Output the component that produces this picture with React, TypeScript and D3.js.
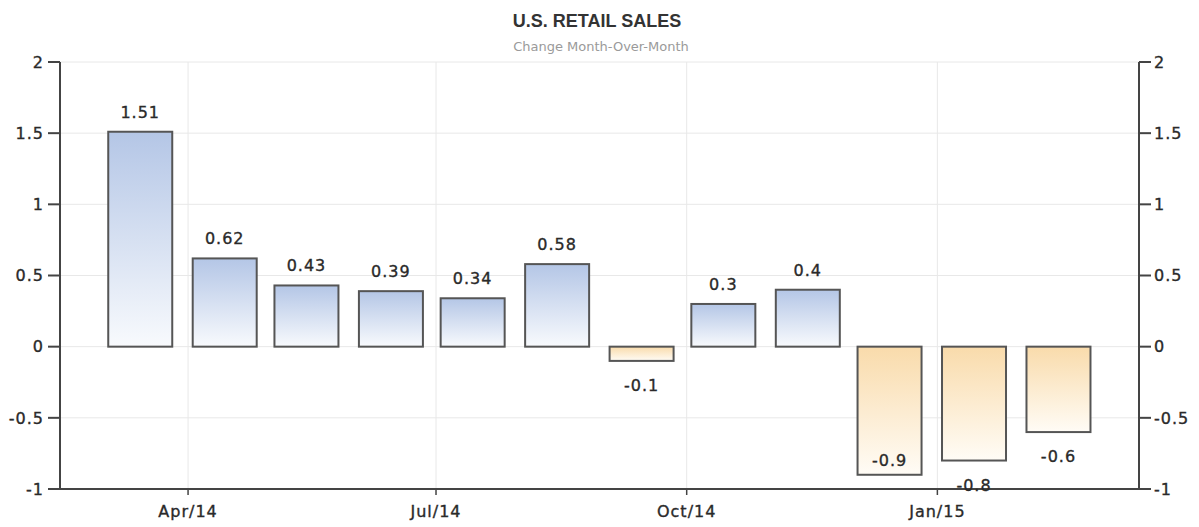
import React from "react";
import * as d3 from "d3";

const months = ["2014-03-15","2014-04-15","2014-05-15","2014-06-15","2014-07-15","2014-08-15","2014-09-15","2014-10-15","2014-11-15","2014-12-15","2015-01-15","2015-02-15"];
const values = [1.51, 0.62, 0.43, 0.39, 0.34, 0.58, -0.1, 0.3, 0.4, -0.9, -0.8, -0.6];
const yTicks = [-1, -0.5, 0, 0.5, 1, 1.5, 2];
const xTickDates = ["2014-04-01", "2014-07-01", "2014-10-01", "2015-01-01"];
const xTickLabels = ["Apr/14", "Jul/14", "Oct/14", "Jan/15"];
const title = "U.S. RETAIL SALES";
const subtitle = "Change Month-Over-Month";

const W = 1199, H = 527;
const left = 60, right = 1139, top = 62, bottom = 489;
const parse = d3.utcParse("%Y-%m-%d");

export default function App() {
  const x = d3.scaleUtc()
    .domain([parse("2014-02-13")!, parse("2015-03-16")!])
    .range([left, right]);
  const y = d3.scaleLinear().domain([-1, 2]).range([bottom, top]);
  const barW = 64;
  const font = "'DejaVu Sans', Verdana, sans-serif";
  const fmt = (v: number) => String(v);
  const txt = { fontFamily: font, fontSize: 16, letterSpacing: 1, fill: "#2a2a2a", stroke: "#2a2a2a", strokeWidth: 0.35 } as const;

  return (
    <svg width={W} height={H} style={{ position: "absolute", left: 0, top: 0, background: "#fff" }}>
      <defs>
        <linearGradient id="gPos" x1="0" y1="0" x2="0" y2="1">
          <stop offset="0" stopColor="#b4c6e6" />
          <stop offset="1" stopColor="#f8fafd" />
        </linearGradient>
        <linearGradient id="gNeg" x1="0" y1="0" x2="0" y2="1">
          <stop offset="0" stopColor="#f9dbab" />
          <stop offset="1" stopColor="#fffcf6" />
        </linearGradient>
      </defs>
      <rect width={W} height={H} fill="#fff" />
      <text x={597} y={27} textAnchor="middle" fontFamily="'Liberation Sans', Arial, sans-serif" fontWeight="bold" fontSize={18} fill="#333">{title}</text>
      <text x={601} y={51} textAnchor="middle" fontFamily={font} fontSize={13} fill="#9a9a9a">{subtitle}</text>

      {/* grid */}
      {yTicks.map((t) => (
        <line key={"gy" + t} x1={left} x2={right} y1={y(t)} y2={y(t)} stroke="#e8e8e8" strokeWidth={1} />
      ))}
      {xTickDates.map((d) => (
        <line key={"gx" + d} x1={x(parse(d)!)} x2={x(parse(d)!)} y1={top} y2={bottom} stroke="#e8e8e8" strokeWidth={1} />
      ))}

      {/* bars */}
      {values.map((v, i) => {
        const cx = x(parse(months[i])!) - 1.5;
        const y0 = y(0), y1 = y(v);
        return (
          <rect key={"b" + i} x={cx - barW / 2} y={Math.min(y0, y1)} width={barW} height={Math.abs(y1 - y0)}
            fill={v >= 0 ? "url(#gPos)" : "url(#gNeg)"} stroke="#555" strokeWidth={2} />
        );
      })}

      {/* axes */}
      <line x1={left} x2={left} y1={top} y2={bottom} stroke="#444" strokeWidth={2} />
      <line x1={right} x2={right} y1={top} y2={bottom} stroke="#444" strokeWidth={2} />
      <line x1={left - 12} x2={right + 12} y1={bottom} y2={bottom} stroke="#444" strokeWidth={2} />
      {yTicks.map((t) => (
        <g key={"yt" + t}>
          <line x1={left - 12} x2={left} y1={y(t)} y2={y(t)} stroke="#444" strokeWidth={2} />
          <line x1={right} x2={right + 12} y1={y(t)} y2={y(t)} stroke="#444" strokeWidth={2} />
          <text x={44} y={y(t)} dy="0.36em" textAnchor="end" {...txt}>{fmt(t)}</text>
          <text x={1154} y={y(t)} dy="0.36em" textAnchor="start" {...txt}>{fmt(t)}</text>
        </g>
      ))}
      {xTickDates.map((d, i) => (
        <g key={"xt" + d}>
          <line x1={x(parse(d)!)} x2={x(parse(d)!)} y1={bottom} y2={bottom + 6} stroke="#444" strokeWidth={1.5} />
          <text x={x(parse(d)!)} y={517} textAnchor="middle" {...txt}>{xTickLabels[i]}</text>
        </g>
      ))}

      {/* value labels */}
      {values.map((v, i) => {
        const cx = x(parse(months[i])!) - 1.5;
        let ly: number;
        if (v >= 0) ly = y(v) - 14;
        else {
          ly = y(v) + 30;
          if (ly > bottom + 5) ly = y(v) - 9;
        }
        return (
          <text key={"l" + i} x={cx} y={ly} textAnchor="middle" {...txt}>{fmt(v)}</text>
        );
      })}
    </svg>
  );
}
